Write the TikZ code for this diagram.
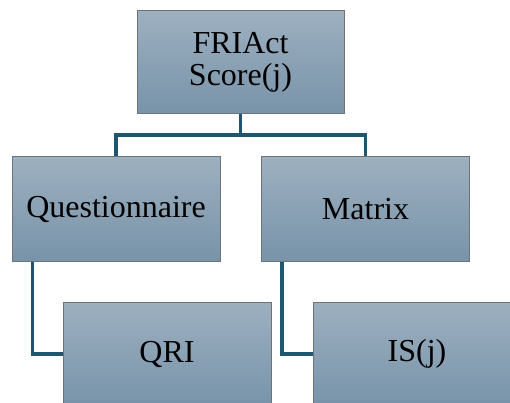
\documentclass[tikz,border=0pt]{standalone}
\usepackage{fontspec}
\setmainfont{Liberation Serif}
\definecolor{boxtop}{HTML}{9DB0C0}
\definecolor{boxbot}{HTML}{7893A9}
\definecolor{boxedge}{HTML}{6E7378}
\definecolor{linkcol}{HTML}{1F5570}
\tikzset{
  orgbox/.style={draw=boxedge, line width=1pt, top color=boxtop, bottom color=boxbot,
    minimum width=208pt, minimum height=104pt, inner sep=0pt, align=center,
    font=\fontsize{32}{32}\selectfont},
  link/.style={draw=linkcol, line width=3.5pt}
}
\begin{document}
\begin{tikzpicture}[x=1pt,y=1pt]
\clip (0,0) rectangle (510,-403);
\fill[white] (0,0) rectangle (510,-403);
\node[orgbox, minimum width=207pt, minimum height=103pt] (top) at (240.5,-62.5) {FRIAct\\Score(j)};
\node[orgbox] (q) at (116,-209) {Questionnaire};
\node[orgbox] (m) at (365.5,-209) {Matrix};
\node[orgbox] (qri) at (167,-354) {QRI};
\node[orgbox] (is) at (417,-354) {IS(j)};
\coordinate (bar) at (240.5,-135);
\draw[link] (top.south) -- (bar) -| (q.north);
\draw[link] (bar) -| (m.north);
\draw[link] ([xshift=21pt]q.south west) |- (qri.west);
\draw[link] ([xshift=21pt]m.south west) |- (is.west);
\end{tikzpicture}
\end{document}
